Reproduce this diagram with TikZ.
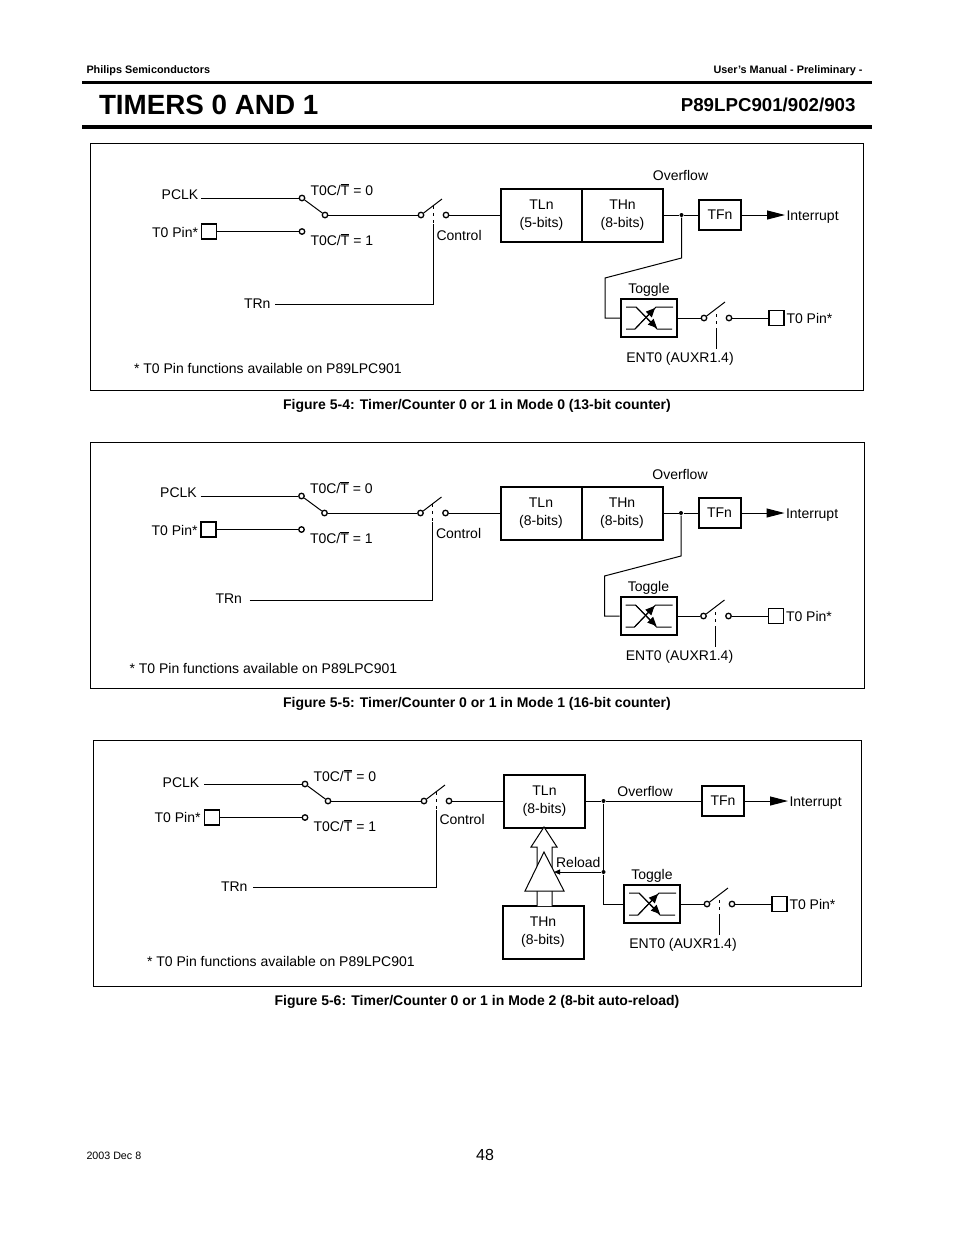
\documentclass[tikz,border=0pt]{standalone}
\usepackage{fontspec}
\setmainfont{Liberation Sans}
\usetikzlibrary{arrows.meta}

\tikzset{
  lbl/.style={inner sep=0pt,text height=10pt,text depth=0pt,font=\fontsize{14}{18}\selectfont},
  reg/.style={draw,line width=2pt,inner sep=0pt,minimum width=81pt,minimum height=53pt,align=center,font=\fontsize{14}{18}\selectfont},
  flag/.style={draw,line width=2pt,inner sep=0pt,minimum width=42pt,minimum height=30pt,font=\fontsize{14}{18}\selectfont},
  pinbox/.style={draw,line width=1.7pt,fill=white,inner sep=0pt,minimum width=15pt,minimum height=15pt},
  term/.style={circle,draw,line width=1.3pt,fill=white,inner sep=0pt,minimum size=5.5pt},
  wdot/.style={circle,fill=black,inner sep=0pt,minimum size=4pt},
  ctrl/.style={dash pattern=on 3pt off 4pt},
  bigtip/.style={-{Triangle[length=18pt,width=9pt]}},
  smalltip/.style={-{Triangle[length=9pt,width=8pt]}},
  panel/.style={draw,line width=1pt},
  figcap/.style={inner sep=0pt,font=\fontsize{14}{18}\selectfont\bfseries}
}

% clock select and run switch; #1 #2 start of the TRn wire
\newcommand{\switchpart}[2]{
  \node [pinbox] (pinin) at (209,231.5) {};
  \node [term] (sela) at (302,198) {};
  \node [term] (selb) at (302,231.5) {};
  \node [term] (selc) at (325,215) {};
  \node [term] (runa) at (421,215) {};
  \node [term] (runb) at (446,215) {};
  \coordinate (pclkend) at (201,198);
  \coordinate (blade) at (442,199);
  \coordinate (dashtop) at (433,206);
  \coordinate (ctla) at (433,224);
  \coordinate (trnend) at (#1,#2);
  \node [lbl,anchor=west] (sel0) at (310,190) {T0C/$\overline{\mbox{T}}$ = 0};
  \node [lbl,anchor=west] (sel1) at (310,240) {T0C/$\overline{\mbox{T}}$ = 1};
  \draw (pclkend) -- (sela);
  \draw (pinin) -- (selb);
  \draw (sela) -- (selc);
  \draw (selc) -- (runa);
  \draw (runa) -- (blade);
  \draw [ctrl] (dashtop) -- (ctla);
  \draw (trnend) -| (ctla);
}

% flag, toggle flip flop and output switch
\newcommand{\togglepart}{
  \node [flag] (tfn) at (720,215) {TFn};
  \node [lbl,anchor=west,inner sep=1pt] (intr) at (785,215) {Interrupt};
  \draw [bigtip] (tfn) -- (intr);
  \node [draw,line width=2pt,minimum width=56pt,minimum height=38pt,inner sep=0pt] (tog) at (649,318) {};
  \node [lbl] (toglab) at (649,288) {Toggle};
  \draw ([shift={(-23,-11)}]tog.center) -- ++(10,0) -- ++(21,22) -- ++(15,0);
  \draw ([shift={(-23,11)}]tog.center) -- ++(9,0) -- ++(21,-22) -- ++(17,0);
  \draw [smalltip] ([shift={(-14,11)}]tog.center) -- ([shift={(6,-10)}]tog.center);
  \draw [smalltip] ([shift={(-13,-11)}]tog.center) -- ([shift={(8,10)}]tog.center);
  \node [term] (enta) at (704,318) {};
  \node [term] (entb) at (729,318) {};
  \node [pinbox] (pinout) at (776.5,318) {};
  \node [lbl,anchor=west] (pinlabb) at (786,318) {T0 Pin*};
  \node [lbl] (entlab) at (680,357) {ENT0 (AUXR1.4)};
  \coordinate (entblade) at (725,302);
  \coordinate (entdash) at (716,314);
  \coordinate (entdashb) at (716,329);
  \coordinate (entend) at (716,349);
  \draw (tog) -- (enta);
  \draw (enta) -- (entblade);
  \draw (entb) -- (pinout);
  \draw [ctrl] (entdash) -- (entdashb);
  \draw (entdashb) -- (entend);
}

\begin{document}
\begin{tikzpicture}[x=1pt,y=-1pt,line width=1pt]
\useasboundingbox (0,0) rectangle (954,1235);

% page head
\node [inner sep=0pt,anchor=west,font=\fontsize{10.85}{12}\selectfont\bfseries] (maker) at (86,71) {Philips Semiconductors};
\node [inner sep=0pt,anchor=east,font=\fontsize{10.85}{12}\selectfont\bfseries] (manual) at (863,71) {User’s Manual - Preliminary -};
\node [inner sep=0pt,anchor=west,font=\fontsize{27.8}{30}\selectfont\bfseries] (title) at (98.5,105) {TIMERS 0 AND 1};
\node [inner sep=0pt,anchor=east,font=\fontsize{18.7}{22}\selectfont\bfseries] (part) at (856,105) {P89LPC901/902/903};
\draw [line width=3.5pt] (82,82.5) -- (872,82.5);
\draw [line width=4pt] (82,127) -- (872,127);

% mode 0
\draw [panel] (90.5,143.5) rectangle (863.5,390.5);
\begin {scope}[name prefix=a-]
  \switchpart{275}{304}
  \togglepart
  \node [lbl] (pclk) at (180,194) {PCLK};
  \node [lbl,anchor=east] (pinlab) at (198.5,232) {T0 Pin*};
  \node [lbl,anchor=west] (ctlab) at (436,235) {Control};
  \node [lbl,anchor=east] (trn) at (271,303) {TRn};
  \node [reg] (tln) at (541.5,215) {TLn\\(5-bits)};
  \node [reg] (thn) at (622.5,215) {THn\\(8-bits)};
  \node [wdot] (ovf) at (681.5,215) {};
  \node [lbl] (ovflab) at (680.5,175) {Overflow};
  \coordinate (benda) at (681.5,258);
  \coordinate (bendb) at (605,278);
  \draw (runb) -- (tln);
  \draw (thn) -- (ovf);
  \draw (ovf) -- (tfn);
  \draw (ovf) -- (benda) -- (bendb) |- (tog);
  \node [lbl,anchor=west] (note) at (133.5,368) {* T0 Pin functions available on P89LPC901};
\end {scope}
\node [figcap] (capa) at (477,406) {Figure 5-4: Timer/Counter 0 or 1 in Mode 0 (13-bit counter)};

% mode 1
\draw [panel] (90.5,442.5) rectangle (864.5,688.5);
\begin {scope}[shift={(-0.5,298)},name prefix=b-]
  \switchpart{250}{302}
  \togglepart
  \node [lbl] (pclk) at (179,194) {PCLK};
  \node [lbl,anchor=east] (pinlab) at (198.5,232) {T0 Pin*};
  \node [lbl,anchor=west] (ctlab) at (436,235) {Control};
  \node [lbl,anchor=east] (trn) at (243,300) {TRn};
  \node [reg] (tln) at (541.5,215) {TLn\\(8-bits)};
  \node [reg] (thn) at (622.5,215) {THn\\(8-bits)};
  \node [wdot] (ovf) at (681.5,215) {};
  \node [lbl] (ovflab) at (680.5,176) {Overflow};
  \coordinate (benda) at (681.5,258);
  \coordinate (bendb) at (605,278);
  \draw (runb) -- (tln);
  \draw (thn) -- (ovf);
  \draw (ovf) -- (tfn);
  \draw (ovf) -- (benda) -- (bendb) |- (tog);
  \node [lbl,anchor=west] (note) at (129.5,370) {* T0 Pin functions available on P89LPC901};
\end {scope}
\node [figcap] (capb) at (477,704) {Figure 5-5: Timer/Counter 0 or 1 in Mode 1 (16-bit counter)};

% mode 2
\draw [panel] (93.5,740.5) rectangle (861.5,986.5);
\begin {scope}[shift={(3,586)},name prefix=c-]
  \switchpart{250}{301}
  \togglepart
  \node [lbl] (pclk) at (178,196) {PCLK};
  \node [lbl,anchor=east] (pinlab) at (198,231) {T0 Pin*};
  \node [lbl,anchor=west] (ctlab) at (436,233) {Control};
  \node [lbl,anchor=east] (trn) at (245,300) {TRn};
  \node [reg] (tln) at (541.5,215) {TLn\\(8-bits)};
  \node [reg] (thn) at (540,346.5) {THn\\(8-bits)};
  \node [wdot] (ovf) at (600.5,215) {};
  \node [wdot] (rld) at (600.5,286) {};
  \node [lbl] (ovflab) at (642,205) {Overflow};
  \node [lbl,anchor=east] (rldlab) at (598,276) {Reload};
  \coordinate (rldend) at (551,286);
  \draw (runb) -- (tln);
  \draw (tln) -- (ovf);
  \draw (ovf) -- (tfn);
  \draw (ovf) -- (rld);
  \draw (rld) |- (tog);
  % hollow arrow and buffer
  \draw [fill=white] (534,320) -- (534,261) -- (528,261) -- (541,241) -- (554,261) -- (549,261) -- (549,320);
  \draw [fill=white] (522,305) -- (541,266) -- (561,305) -- cycle;
  \draw [-{Triangle[length=6pt,width=5pt]}] (rld) -- (rldend);
  \node [lbl,anchor=west] (note) at (143.5,375) {* T0 Pin functions available on P89LPC901};
\end {scope}
\node [figcap] (capc) at (477,1002) {Figure 5-6: Timer/Counter 0 or 1 in Mode 2 (8-bit auto-reload)};

% page foot
\node [inner sep=0pt,anchor=west,font=\fontsize{10.7}{12}\selectfont] (date) at (86,1156) {2003 Dec 8};
\node [inner sep=0pt,font=\fontsize{16}{18}\selectfont] (page) at (485,1155) {48};
\end{tikzpicture}
\end{document}
